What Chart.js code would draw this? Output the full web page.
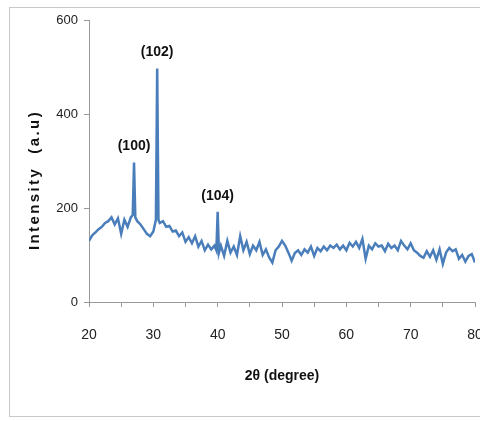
<!DOCTYPE html>
<html>
<head>
<meta charset="utf-8">
<script src="https://cdn.jsdelivr.net/npm/chart.js@4"></script>
<style>
  body { margin: 0; background: #fff; }
  #wrap { width: 480px; height: 421px; }
</style>
</head>
<body>
<div id="wrap"><canvas id="xrd" width="480" height="421"></canvas></div>
<script>
// 2theta positions (degrees) and measured intensity (a.u.)
const theta = [
  20.0, 20.5, 21.0, 21.5, 22.0, 22.5, 23.0, 23.5, 24.0, 24.5,
  25.0, 25.5, 26.0, 26.5, 26.8, 27.0, 27.2, 27.5, 28.0, 28.5,
  29.0, 29.5, 30.0, 30.4, 30.6, 30.8, 31.0, 31.5, 32.0, 32.5,
  33.0, 33.5, 34.0, 34.5, 35.0, 35.5, 36.0, 36.5, 37.0, 37.5,
  38.0, 38.5, 39.0, 39.5, 39.8, 40.0, 40.2, 40.5, 41.0, 41.5,
  42.0, 42.5, 43.0, 43.5, 44.0, 44.5, 45.0, 45.5, 46.0, 46.5,
  47.0, 47.5, 48.0, 48.5, 49.0, 49.5, 50.0, 50.5, 51.0, 51.5,
  52.0, 52.5, 53.0, 53.5, 54.0, 54.5, 55.0, 55.5, 56.0, 56.5,
  57.0, 57.5, 58.0, 58.5, 59.0, 59.5, 60.0, 60.5, 61.0, 61.5,
  62.0, 62.5, 63.0, 63.5, 64.0, 64.5, 65.0, 65.5, 66.0, 66.5,
  67.0, 67.5, 68.0, 68.5, 69.0, 69.5, 70.0, 70.5, 71.0, 71.5,
  72.0, 72.5, 73.0, 73.5, 74.0, 74.5, 75.0, 75.5, 76.0, 76.5,
  77.0, 77.5, 78.0, 78.5, 79.0, 79.5, 80.0
];
const intensity = [
  130, 142, 148, 155, 160, 168, 172, 180, 165, 178,
  145, 175, 160, 180, 185, 297, 180, 172, 165, 155,
  145, 140, 150, 175, 497, 175, 168, 172, 160, 162,
  150, 152, 140, 148, 128, 138, 125, 140, 118, 130,
  110, 122, 112, 120, 110, 192, 105, 120,  98, 130,
  105, 118, 100, 140, 110, 128, 102, 120, 110, 128,
  100, 112,  95,  84, 110, 118, 130, 120, 105,  88,
  104, 110, 100, 112, 105, 118,  98, 115, 108, 118,
  110, 120, 115, 122, 112, 120, 110, 126, 118, 128,
  115, 134,  92, 120, 112, 125, 118, 120, 108, 124,
  115, 120, 110, 130, 120, 112, 125, 110, 105,  98,
   94, 108,  96, 110,  90, 112,  81, 105, 115, 108,
  112,  92, 100,  86,  98, 102,  84
];

// miller index labels above the peaks
const peakNames = ['(100)', '(102)', '(104)'];
const peakTheta = [27.0, 30.6, 40.0];
const peakValue = [297, 497, 192];

const sans = "'Liberation Sans', Arial, sans-serif";

const xrdExtras = {
  id: 'xrdExtras',
  beforeDraw(chart) {
    const ctx = chart.ctx;
    ctx.save();
    ctx.fillStyle = '#fff';
    ctx.fillRect(0, 0, chart.width, chart.height);
    ctx.strokeStyle = '#c8c8c8';
    ctx.lineWidth = 1;
    ctx.strokeRect(9.5, 7.5, 480, 409);
    ctx.restore();
  },
  afterDraw(chart) {
    const ctx = chart.ctx;
    const x = chart.scales.x, y = chart.scales.y;
    ctx.save();
    ctx.fillStyle = '#111';
    ctx.font = "bold 14px " + sans;
    ctx.textAlign = 'center';
    ctx.textBaseline = 'middle';
    peakNames.forEach((name, i) => {
      ctx.fillText(name, x.getPixelForValue(peakTheta[i]), y.getPixelForValue(peakValue[i]) - 16);
    });
    // y axis title
    ctx.translate(35, 180);
    ctx.rotate(-Math.PI / 2);
    ctx.font = "bold 15px " + sans;
    ctx.letterSpacing = '2.4px';
    ctx.fillText('Intensity  (a.u)', 0, 0);
    ctx.restore();
  }
};

new Chart(document.getElementById('xrd'), {
  type: 'line',
  data: {
    datasets: [{
      data: theta.map((t, i) => ({ x: t, y: intensity[i] })),
      borderColor: '#4a7ebb',
      borderWidth: 2.5,
      pointRadius: 0,
      tension: 0
    }]
  },
  plugins: [xrdExtras],
  options: {
    responsive: false,
    animation: false,
    layout: { padding: { top: 20, right: 5, left: 0, bottom: 0 } },
    plugins: {
      legend: { display: false },
      tooltip: { enabled: false }
    },
    scales: {
      x: {
        type: 'linear',
        min: 20,
        max: 80,
        border: { color: '#999' },
        grid: { drawOnChartArea: false, tickLength: 5, color: '#999' },
        ticks: {
          stepSize: 5,
          autoSkip: false,
          maxRotation: 0,
          padding: 20,
          color: '#222',
          font: { family: sans, size: 14 },
          callback: v => (v % 10 === 0 ? v : '')
        },
        title: {
          display: true,
          text: '2θ (degree)',
          color: '#111',
          font: { family: sans, size: 14, weight: 'bold' },
          padding: { top: 0, bottom: 36 }
        },
        afterFit(scale) {
          scale.height = 119;
          scale.paddingLeft = 0;
          scale.paddingRight = 0;
        }
      },
      y: {
        min: 0,
        max: 600,
        border: { color: '#999' },
        grid: { drawOnChartArea: false, tickLength: 5, color: '#999' },
        ticks: {
          stepSize: 200,
          padding: 6,
          color: '#222',
          font: { family: sans, size: 13 }
        },
        afterFit(scale) {
          scale.width = 89;
          scale.paddingTop = 0;
          scale.paddingBottom = 0;
        }
      }
    }
  }
});
</script>
</body>
</html>
